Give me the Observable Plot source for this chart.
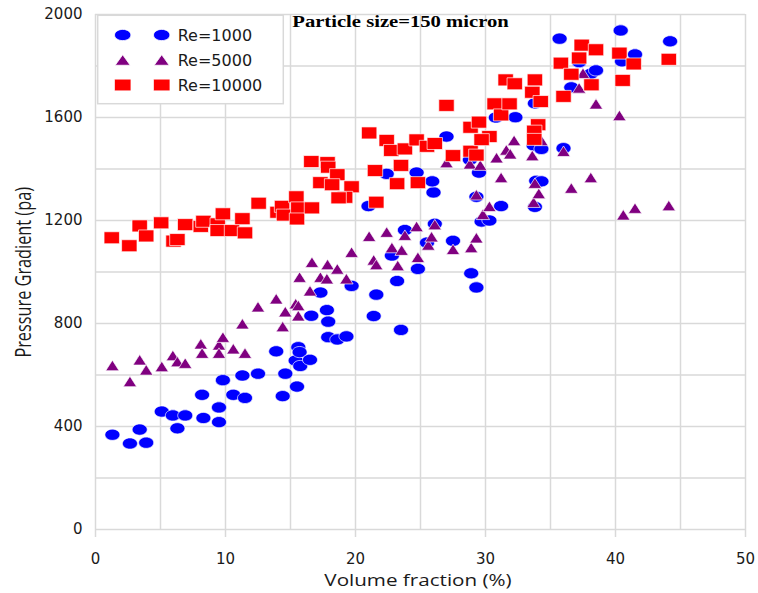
<!DOCTYPE html>
<html><head><meta charset="utf-8">
<script src="https://cdn.jsdelivr.net/npm/d3@7"></script>
<script src="https://cdn.jsdelivr.net/npm/@observablehq/plot@0.6"></script>
<style>body{margin:0;background:#fff}</style>
</head><body><div id="chart"></div>
<script>
// Volume fraction (%) , Pressure Gradient (pa)
const re1000 = [[1.3,368],[2.65,334],[3.4,388],[3.9,337],[5.1,458],[5.95,443],[6.3,393],[6.9,443],[8.2,523],[8.3,433],[9.5,474],[9.5,417],[9.8,580],[10.6,523],[11.3,598],[11.5,511],[12.5,605],[13.9,692],[14.4,518],[14.6,605],[15.5,555],[15.6,708],[15.4,656],[15.75,635],[15.7,689],[16.5,659],[16.6,830],[17.3,920],[17.8,852],[17.9,807],[17.9,747],[18.6,738],[19.3,750],[19.7,946],[21.6,912],[21.4,829],[23.2,965],[23.5,775],[21.0,1256],[22.4,1381],[23.8,1163],[25.5,1114],[22.8,1064],[24.8,1012],[24.7,1386],[26.0,1309],[25.9,1352],[26.1,1187],[27.0,1526],[27.5,1121],[28.8,1436],[28.9,995],[29.3,940],[29.3,1292],[29.5,1386],[29.7,1196],[30.3,1200],[30.8,1600],[31.2,1256],[32.3,1601],[33.7,1492],[33.8,1253],[33.8,1655],[33.9,1354],[34.3,1352],[34.3,1478],[36.0,1481],[35.7,1906],[36.6,1717],[37.2,1815],[38.1,1770],[38.5,1783],[40.4,1938],[40.5,1818],[41.5,1845],[44.2,1896]];
const re5000 = [[1.3,637],[2.65,575],[3.4,659],[3.9,620],[5.1,633],[5.95,676],[6.3,652],[6.9,646],[8.1,721],[8.2,685],[9.5,717],[9.8,747],[9.5,685],[10.6,702],[11.5,685],[11.3,799],[12.5,865],[13.9,896],[14.4,788],[14.6,846],[15.4,877],[15.6,870],[15.6,830],[16.5,927],[15.7,980],[16.65,1038],[17.3,980],[17.85,1029],[17.8,974],[18.6,1012],[19.3,974],[19.7,1077],[21.05,1139],[21.4,1047],[21.6,1029],[22.4,1155],[22.8,1095],[23.25,1025],[23.55,1085],[23.8,1143],[24.7,1177],[24.8,1057],[25.6,1105],[25.85,1137],[26.1,1184],[27.0,1425],[27.5,1088],[28.8,1420],[28.9,1095],[29.3,1133],[29.3,1300],[29.6,1415],[29.8,1224],[30.3,1255],[30.85,1444],[31.2,1367],[31.6,1474],[31.9,1459],[32.2,1511],[33.6,1452],[33.7,1271],[33.8,1345],[34.1,1305],[34.3,1511],[36.0,1469],[36.6,1326],[37.2,1715],[37.5,1772],[38.1,1367],[38.5,1653],[40.3,1608],[40.6,1222],[41.5,1248],[44.1,1258]];
const re10000 = [[1.25,1133],[2.6,1102],[3.4,1179],[3.9,1140],[5.05,1191],[6.0,1120],[6.3,1126],[6.9,1184],[8.1,1177],[8.3,1197],[9.4,1187],[9.4,1161],[9.8,1226],[10.5,1161],[11.3,1207],[11.5,1152],[12.55,1267],[14.0,1232],[14.35,1255],[14.5,1221],[15.45,1292],[15.6,1249],[15.5,1206],[16.65,1249],[16.6,1429],[17.85,1425],[17.9,1407],[17.3,1347],[18.6,1378],[18.2,1339],[19.7,1331],[19.2,1290],[18.7,1288],[21.05,1540],[21.5,1394],[21.6,1271],[22.4,1511],[22.75,1472],[23.8,1478],[24.7,1513],[25.5,1488],[26.1,1499],[23.5,1414],[23.2,1343],[24.8,1347],[27.0,1647],[27.5,1452],[28.85,1469],[29.3,1454],[28.85,1562],[29.5,1582],[30.3,1526],[29.7,1514],[30.7,1653],[31.2,1610],[31.85,1653],[31.55,1746],[32.25,1731],[33.8,1746],[33.6,1698],[34.25,1662],[34.05,1572],[33.75,1547],[33.75,1515],[35.8,1811],[36.0,1682],[36.6,1768],[37.2,1831],[37.4,1881],[38.5,1863],[38.15,1727],[40.3,1850],[40.55,1744],[41.4,1808],[44.1,1826]];
const seriesNames = ["Re=1000", "Re=5000", "Re=10000"];
const seriesColors = ["#0000ff", "#800080", "#ff0000"];
const xTicks = [0, 10, 20, 30, 40, 50];
const xGrid = [0, 5, 10, 15, 20, 25, 30, 35, 40, 45, 50];
const yTicks = [0, 400, 800, 1200, 1600, 2000];
const yGrid = [0, 200, 400, 600, 800, 1000, 1200, 1400, 1600, 1800, 2000];
const titleText = "Particle size=150 micron";
const xLabel = "Volume fraction (%)";
const yLabel = "Pressure Gradient (pa)";

// custom marker shapes (Excel style, slightly wide)
function ellipseSym(a, b) {
  const k = 0.5523;
  return {draw(c) {
    c.moveTo(a, 0);
    c.bezierCurveTo(a, k * b, k * a, b, 0, b);
    c.bezierCurveTo(-k * a, b, -a, k * b, -a, 0);
    c.bezierCurveTo(-a, -k * b, -k * a, -b, 0, -b);
    c.bezierCurveTo(k * a, -b, a, -k * b, a, 0);
    c.closePath();
  }};
}
function rectSym(w, h) {
  return {draw(c) {
    c.moveTo(-w / 2, -h / 2); c.lineTo(w / 2, -h / 2); c.lineTo(w / 2, h / 2); c.lineTo(-w / 2, h / 2); c.closePath();
  }};
}
function triSym(w, h) {
  return {draw(c) {
    c.moveTo(0, -h / 2); c.lineTo(w / 2, h / 2); c.lineTo(-w / 2, h / 2); c.closePath();
  }};
}
const symbols = [ellipseSym(7.5, 5.6), triSym(13.4, 10.5), rectSym(15.4, 12)];
const legendSymbols = [ellipseSym(8.2, 5.6), triSym(15, 10.5), rectSym(16.6, 11.8)];
const seriesData = [re1000, re5000, re10000];

const gridStyle = {stroke: "#d9d9d9", strokeOpacity: 1, strokeWidth: 1.5};
const svg = Plot.plot({
  width: 758, height: 593,
  marginLeft: 95, marginRight: 13, marginTop: 14, marginBottom: 64,
  style: {fontFamily: "DejaVu Sans", fontSize: "15px", color: "#1a1a1a", background: "#fff"},
  x: {domain: [0, 50]},
  y: {domain: [0, 2000]},
  marks: [
    Plot.gridX(xGrid, gridStyle),
    Plot.gridY(yGrid, gridStyle),
    Plot.axisX(xTicks, {tickSize: 8, tickPadding: 16, stroke: "#d9d9d9", strokeWidth: 1.5, fill: "#1a1a1a", fontSize: 15, label: null, tickFormat: d => String(d)}),
    Plot.axisY(yTicks, {tickSize: 0, tickPadding: 13, fill: "#1a1a1a", fontSize: 15, label: null, tickFormat: d => String(d)}),
    ...seriesData.map((data, i) => Plot.dot(data, {
      x: d => d[0], y: d => d[1], symbol: symbols[i], r: 5,
      fill: seriesColors[i], stroke: "#fff", strokeWidth: 0.8, strokeOpacity: 0.85
    }))
  ]
});

const g = d3.select(svg).append("g");
// title
g.append("text").attr("transform", "translate(400.5,26.7) scale(1.29,1)")
  .attr("text-anchor", "middle").attr("font-family", "Liberation Serif").attr("font-weight", "bold")
  .attr("font-size", 16).attr("fill", "#000").text(titleText);
// x label
g.append("text").attr("transform", "translate(418,586) scale(1.25,1)")
  .attr("text-anchor", "middle").attr("font-family", "Open Sans").attr("font-size", 16.5)
  .attr("fill", "#1a1a1a").text(xLabel);
// y label
g.append("text").attr("transform", "translate(30.5,272.3) rotate(-90) scale(1,1.3)")
  .attr("text-anchor", "middle").attr("font-family", "Open Sans").attr("font-size", 16.3)
  .attr("fill", "#1a1a1a").text(yLabel);
// legend
const lg = g.append("g");
lg.append("rect").attr("x", 97.7).attr("y", 15.3).attr("width", 185.6).attr("height", 88.4)
  .attr("fill", "#fff").attr("stroke", "#d9d9d9").attr("stroke-width", 1.5);
const rowY = [35, 60, 85];
seriesNames.forEach((name, i) => {
  const p = d3.symbol(legendSymbols[i])();
  [122.7, 161.7].forEach(cx => {
    lg.append("path").attr("d", p).attr("transform", `translate(${cx},${rowY[i]})`)
      .attr("fill", seriesColors[i]).attr("stroke", "#fff").attr("stroke-width", 0.8);
  });
  lg.append("text").attr("x", 177.7).attr("y", rowY[i] + 6.2).attr("text-anchor", "start")
    .attr("font-family", "DejaVu Sans").attr("font-size", 16).attr("fill", "#1a1a1a").text(name);
});
document.getElementById("chart").appendChild(svg);
</script>
</body></html>
